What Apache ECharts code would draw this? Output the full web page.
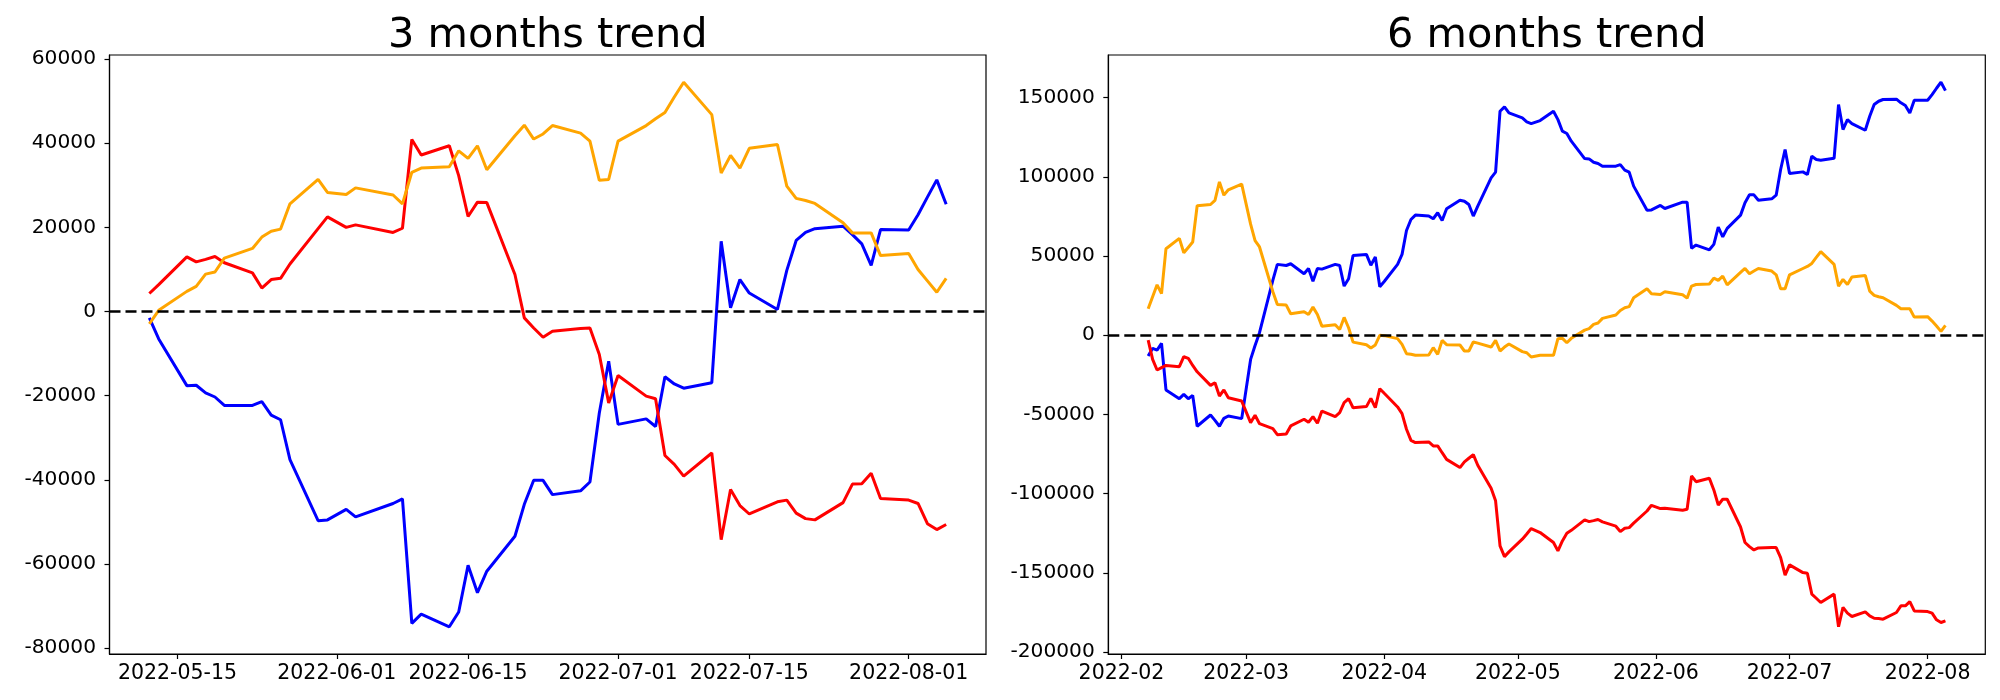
<!DOCTYPE html>
<html><head><meta charset="utf-8">
<script src="https://cdn.jsdelivr.net/npm/echarts@6/dist/echarts.min.js"></script>
<style>html,body{margin:0;padding:0;background:#fff}#c{width:2000px;height:700px}</style>
</head><body><div id="c"></div>
<script>
// ---------- 3 months ----------
const dates3 = ['2022-05-12','2022-05-13','2022-05-16','2022-05-17','2022-05-18','2022-05-19','2022-05-20','2022-05-23','2022-05-24','2022-05-25','2022-05-26','2022-05-27','2022-05-30','2022-05-31',
'2022-06-02','2022-06-03','2022-06-07','2022-06-08','2022-06-09','2022-06-10','2022-06-13','2022-06-14','2022-06-15','2022-06-16','2022-06-17','2022-06-20','2022-06-21','2022-06-22','2022-06-23','2022-06-24','2022-06-27','2022-06-28','2022-06-29','2022-06-30',
'2022-07-01','2022-07-04','2022-07-05','2022-07-06','2022-07-07','2022-07-08','2022-07-11','2022-07-12','2022-07-13','2022-07-14','2022-07-15','2022-07-18','2022-07-19','2022-07-20','2022-07-21','2022-07-22','2022-07-25','2022-07-26','2022-07-27','2022-07-28','2022-07-29',
'2022-08-01','2022-08-02','2022-08-03','2022-08-04','2022-08-05'];
const blue3 = [-1500,-6500,-17600,-17500,-19300,-20300,-22300,-22300,-21400,-24600,-25700,-35200,-49700,-49500,
-47000,-48800,-45600,-44500,-74100,-71900,-74900,-71400,-60300,-66800,-61700,-53400,-45800,-40100,-40100,-43500,-42600,-40500,-24100,-11800,
-26800,-25500,-27300,-15500,-17200,-18200,-16900,16700,900,7600,4400,500,9800,16900,18800,19700,20300,18300,16100,11000,19500,
19400,23000,27200,31300,25500];
const red3 = [4300,6400,13000,11800,12400,13100,11600,9200,5600,7600,7900,11300,19700,22500,
20000,20600,18800,19800,40900,37200,39400,32300,22600,26000,25900,8800,-1500,-3900,-6100,-4700,-4000,-3900,-10200,-21700,
-15200,-20100,-20700,-34200,-36300,-39100,-33600,-54200,-42300,-46100,-48100,-45200,-44800,-47900,-49200,-49500,-45400,-41000,-40900,-38400,-44400,
-44800,-45600,-50400,-51800,-50600];
const orange3 = [-2900,300,4800,6000,8900,9400,12700,15000,17700,19100,19600,25600,31400,28300,
27800,29400,27700,25600,33100,34100,34400,38200,36400,39400,33700,41800,44300,41000,42200,44200,42400,40500,31200,31400,
40500,44200,45800,47300,51000,54500,46800,32900,37100,34100,38800,39700,29800,26900,26400,25700,21100,18700,18700,18700,13300,
13800,10000,7300,4600,7900];
const xTicks3 = ['2022-05-15','2022-06-01','2022-06-15','2022-07-01','2022-07-15','2022-08-01'];
const yTicks3 = [-80000,-60000,-40000,-20000,0,20000,40000,60000];

// ---------- 6 months ----------
const dates6 = ['2022-02-07','2022-02-08','2022-02-09','2022-02-10','2022-02-11','2022-02-14','2022-02-15','2022-02-16','2022-02-17','2022-02-18','2022-02-21','2022-02-22','2022-02-23','2022-02-24','2022-02-25','2022-02-28',
'2022-03-02','2022-03-03','2022-03-04','2022-03-07','2022-03-08','2022-03-10','2022-03-11','2022-03-14','2022-03-15','2022-03-16','2022-03-17','2022-03-18','2022-03-21','2022-03-22','2022-03-23','2022-03-24','2022-03-25','2022-03-28','2022-03-29','2022-03-30','2022-03-31',
'2022-04-01','2022-04-04','2022-04-05','2022-04-06','2022-04-07','2022-04-08','2022-04-11','2022-04-12','2022-04-13','2022-04-14','2022-04-15','2022-04-18','2022-04-19','2022-04-20','2022-04-21','2022-04-22','2022-04-25','2022-04-26','2022-04-27','2022-04-28','2022-04-29',
'2022-05-02','2022-05-03','2022-05-04','2022-05-06','2022-05-09','2022-05-10','2022-05-11','2022-05-12','2022-05-13','2022-05-16','2022-05-17','2022-05-18','2022-05-19','2022-05-20','2022-05-23','2022-05-24','2022-05-25','2022-05-26','2022-05-27','2022-05-30','2022-05-31',
'2022-06-02','2022-06-03','2022-06-07','2022-06-08','2022-06-09','2022-06-10','2022-06-13','2022-06-14','2022-06-15','2022-06-16','2022-06-17','2022-06-20','2022-06-21','2022-06-22','2022-06-23','2022-06-24','2022-06-27','2022-06-28','2022-06-29','2022-06-30',
'2022-07-01','2022-07-04','2022-07-05','2022-07-06','2022-07-07','2022-07-08','2022-07-11','2022-07-12','2022-07-13','2022-07-14','2022-07-15','2022-07-18','2022-07-19','2022-07-20','2022-07-21','2022-07-22','2022-07-25','2022-07-26','2022-07-27','2022-07-28','2022-07-29',
'2022-08-01','2022-08-02','2022-08-03','2022-08-04','2022-08-05'];
const blue6 = [-13200,-8300,-9400,-5200,-34600,-40100,-37400,-40100,-38000,-57500,-50400,-53800,-57500,-52500,-51000,-52700,
-15300,-6500,1600,34800,44700,44000,45100,38800,42100,34100,42100,41700,44700,44000,31000,35600,50300,51000,44200,49300,30600,
33900,44700,51000,66100,73000,75800,75200,73500,77300,72400,79800,85200,84600,82500,75200,81500,99300,102900,141400,144100,140300,
137200,134700,133600,135500,141400,136100,128800,127300,122500,111500,111300,109200,108400,106700,106700,107700,104200,102900,94100,78900,79100,
81900,80000,84000,84000,54800,56900,53900,57300,68200,62100,67400,75800,83600,88600,88600,85200,86100,88400,104600,117200,
102100,103100,101400,113000,110900,110500,111700,145600,129800,136100,133600,129400,138200,145600,147700,148800,149000,146700,145000,140300,148300,
148300,151900,155900,159700,154400];
const red6 = [-3100,-15300,-22000,-20500,-19100,-19900,-13600,-14600,-19100,-23100,-31700,-30000,-38400,-34600,-39500,-41600,
-55200,-50600,-55900,-59000,-62800,-62400,-57300,-53100,-55000,-51400,-55600,-47900,-51400,-48900,-42600,-40100,-45800,-45100,-39900,-45800,-33800,
-36700,-45300,-49500,-59400,-66400,-67800,-67400,-69900,-69900,-74200,-78400,-83600,-80000,-77700,-75400,-82100,-96700,-104600,-133000,-139800,-136800,
-128800,-125500,-122100,-124600,-130900,-136200,-129900,-125100,-123200,-116600,-117700,-117100,-116400,-117900,-120600,-124000,-121900,-121500,-118700,-111000,-107400,
-109500,-109300,-110500,-109900,-88900,-92500,-90300,-97700,-107200,-103600,-103600,-121100,-130900,-133500,-135600,-134300,-134100,-134100,-140400,-151500,
-145000,-149900,-150300,-163500,-166100,-168800,-163500,-184100,-171900,-175500,-177600,-174700,-177200,-178700,-178900,-179300,-175100,-170900,-170900,-168200,-174100,
-174500,-175500,-179700,-181400,-180400];
const orange6 = [16700,24300,31800,26200,54600,61100,52000,55400,58800,81700,82500,85100,96800,88400,91800,95400,
70100,59700,55700,27400,19400,19000,13500,14800,13100,17700,13100,5700,6600,3600,11200,4700,-4400,-6000,-8100,-6200,-100,
-300,-2200,-5800,-11700,-12100,-12700,-12500,-7900,-12100,-3300,-6000,-6200,-10000,-10000,-4300,-5000,-7500,-3300,-10000,-7500,-5600,
-10400,-11100,-13800,-12700,-12700,-2200,-2000,-4800,-2000,3200,4100,6800,7700,10600,12700,15600,17300,18000,23600,29300,26200,
25700,27400,25500,23400,31000,32000,32300,36000,34600,37300,31800,39600,42100,38800,40500,42100,40500,38100,29300,29300,
38100,42100,43400,45300,49100,52700,44700,31000,35200,32000,36700,37700,27800,25100,24300,23600,18800,16700,16700,16700,11400,
11700,8900,5800,2400,6200];
const xTicks6 = ['2022-02-01','2022-03-01','2022-04-01','2022-05-01','2022-06-01','2022-07-01','2022-08-01'];
const yTicks6 = [-200000,-150000,-100000,-50000,0,50000,100000,150000];

const titles = ['3 months trend','6 months trend'];
const colors = {blue:'#0000ff', red:'#ff0000', orange:'#ffa500'};

function ts(s){const p=s.split('-');return Date.UTC(+p[0],+p[1]-1,+p[2]);}
function pad(n){return (n<10?'0':'')+n;}
function fmtDay(v){const d=new Date(v);return d.getUTCFullYear()+'-'+pad(d.getUTCMonth()+1)+'-'+pad(d.getUTCDate());}
function fmtMonth(v){const d=new Date(v);return d.getUTCFullYear()+'-'+pad(d.getUTCMonth()+1);}
function extentWithMargin(arrs){let mn=Infinity,mx=-Infinity;arrs.forEach(a=>a.forEach(v=>{if(v<mn)mn=v;if(v>mx)mx=v;}));const m=(mx-mn)*0.05;return [mn-m,mx+m];}

const FONT='DejaVu Sans';
const grids=[{left:109.5,top:55,width:876.5,height:599},{left:1108.3,top:55,width:877,height:599}];
const sets=[
  {dates:dates3,blue:blue3,red:red3,orange:orange3,xt:xTicks3,yt:yTicks3,fmt:fmtDay},
  {dates:dates6,blue:blue6,red:red6,orange:orange6,xt:xTicks6,yt:yTicks6,fmt:fmtMonth}
];
const xAxes=[],yAxes=[],series=[],graphics=[];
sets.forEach((s,i)=>{
  const t=s.dates.map(ts);
  const xr=(t[t.length-1]-t[0])*0.05;
  const ye=extentWithMargin([s.blue,s.red,s.orange]);
  xAxes.push({type:'value',gridIndex:i,min:t[0]-xr,max:t[t.length-1]+xr,scale:true,
    axisLine:{show:true,onZero:false,lineStyle:{color:'#000',width:1.2}},
    axisTick:{show:true,length:5,lineStyle:{color:'#000',width:1.2},customValues:s.xt.map(ts)},
    axisLabel:{show:true,color:'#000',fontFamily:FONT,fontSize:20.5,margin:9,customValues:s.xt.map(ts),formatter:s.fmt,hideOverlap:false},
    splitLine:{show:false}});
  yAxes.push({type:'value',gridIndex:i,min:ye[0],max:ye[1],
    axisLine:{show:true,onZero:false,lineStyle:{color:'#000',width:1.2}},
    axisTick:{show:true,length:5,lineStyle:{color:'#000',width:1.2},customValues:s.yt},
    axisLabel:{show:true,color:'#000',fontFamily:FONT,fontSize:20.2,margin:13.5,customValues:s.yt,formatter:v=>String(v)},
    splitLine:{show:false}});
  [['blue',s.blue],['red',s.red],['orange',s.orange]].forEach(([c,vals],k)=>{
    const ser={type:'line',xAxisIndex:i,yAxisIndex:i,data:t.map((x,j)=>[x,vals[j]]),
      showSymbol:false,symbol:'none',lineStyle:{color:colors[c],width:3},itemStyle:{color:colors[c]},
      animation:false,silent:true,z:2+k};
    if(k===0){ser.markLine={silent:true,symbol:'none',animation:false,label:{show:false},
      lineStyle:{color:'#000',type:[11,5],width:2.6},data:[{yAxis:0}]};}
    series.push(ser);
  });
  const g=grids[i];
  graphics.push({type:'text',x:g.left+g.width/2,y:36,style:{text:titles[i],font:'41.5px "DejaVu Sans"',fill:'#000',align:'center',verticalAlign:'middle'}});
});
grids.forEach(g=>{g.show=true;g.borderColor='#000';g.borderWidth=1.2;g.containLabel=false;});

const chart=echarts.init(document.getElementById('c'),null,{renderer:'canvas'});
chart.setOption({animation:false,backgroundColor:'#fff',grid:grids,xAxis:xAxes,yAxis:yAxes,series:series,graphic:graphics});
</script></body></html>
